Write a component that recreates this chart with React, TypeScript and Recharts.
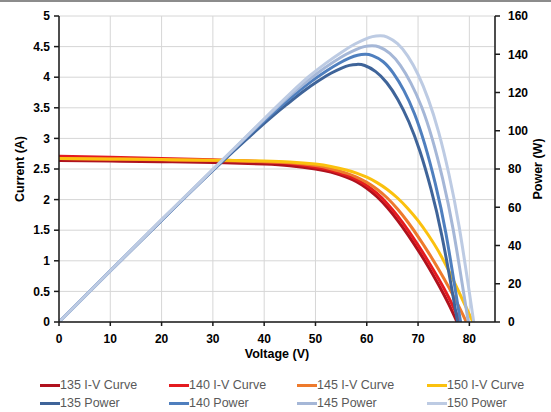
import React from 'react';
import { LineChart, Line, XAxis, YAxis, CartesianGrid, Label } from 'recharts';

// ---- axis ticks ----
const voltageTicks = [0, 10, 20, 30, 40, 50, 60, 70, 80];
const currentTicks = [0, 0.5, 1, 1.5, 2, 2.5, 3, 3.5, 4, 4.5, 5];
const powerTicks = [0, 20, 40, 60, 80, 100, 120, 140, 160];

// ---- I-V curves: [voltage V, current A] ----
const iv135 = [[0, 2.64], [10, 2.63], [20, 2.62], [30, 2.605], [40, 2.58], [45, 2.553], [50, 2.5], [53, 2.449], [56, 2.368], [58, 2.292], [60, 2.186], [62, 2.046], [64, 1.87], [66, 1.662], [68, 1.428], [70, 1.174], [72, 0.904], [74, 0.608], [76, 0.288], [77.6, 0]];
const iv140 = [[0, 2.71], [10, 2.69], [20, 2.67], [30, 2.65], [40, 2.62], [45, 2.59], [50, 2.53], [53, 2.48], [56, 2.4], [58, 2.33], [60, 2.23], [62, 2.1], [64, 1.934], [66, 1.734], [68, 1.506], [70, 1.256], [72, 0.99], [74, 0.706], [76, 0.396], [78.25, 0]];
const iv145 = [[0, 2.67], [10, 2.66], [20, 2.65], [30, 2.64], [40, 2.62], [45, 2.6], [50, 2.555], [53, 2.504], [56, 2.432], [58, 2.368], [60, 2.282], [62, 2.17], [64, 2.026], [66, 1.846], [68, 1.634], [70, 1.396], [72, 1.138], [74, 0.862], [76, 0.566], [78, 0.246], [79.4, 0]];
const iv150 = [[0, 2.67], [10, 2.665], [20, 2.655], [30, 2.645], [40, 2.63], [45, 2.615], [50, 2.58], [53, 2.541], [56, 2.484], [58, 2.434], [60, 2.366], [62, 2.278], [64, 2.166], [66, 2.026], [68, 1.856], [70, 1.656], [72, 1.422], [74, 1.154], [76, 0.834], [78, 0.484], [80, 0.124], [80.7, 0]];

// ---- Power curves: [voltage V, power W] ----
const pw135 = [[0, 0], [10, 26.7], [20, 53.1], [30, 79.2], [40, 103.8], [44.1, 113.1], [47.6, 120.5], [50.6, 126.1], [53.1, 130.2], [55.1, 132.8], [56.6, 134.2], [58.1, 134.7], [59.6, 134.1], [61.75, 130.9], [63.9, 125.1], [66.05, 116.4], [68.2, 104.7], [70.35, 89.4], [72.5, 69.7], [74.65, 45], [76.8, 13.9], [77.7, 0]];
const pw140 = [[0, 0], [10, 26.8], [20, 53.3], [30, 79.5], [40, 105.2], [45.7, 118.4], [49.2, 125.8], [52.2, 131.4], [54.7, 135.45], [56.7, 138.1], [58.2, 139.5], [59.7, 140], [61.1, 139.3], [63.2, 136.1], [65.2, 130], [67.25, 121], [69.3, 108.9], [71.3, 93], [73.35, 72.5], [75.4, 46.8], [77.4, 14.5], [78.3, 0]];
const pw145 = [[0, 0], [10, 26.8], [20, 53.4], [30, 79.7], [40, 105.9], [45, 118.4], [47, 122.9], [50.5, 130.3], [53.5, 135.9], [56, 140], [58, 142.6], [59.5, 144], [61, 144.5], [62.45, 143.8], [64.5, 140.5], [66.55, 134.2], [68.6, 124.9], [70.7, 112.4], [72.75, 95.9], [74.8, 74.8], [76.85, 48.3], [78.9, 15], [79.8, 0]];
const pw150 = [[0, 0], [10, 26.8], [20, 53.5], [30, 79.8], [40, 106.3], [45, 119.3], [48.6, 128.1], [52.1, 135.5], [55.1, 141.1], [57.6, 145.2], [59.6, 147.8], [61.1, 149.2], [62.6, 149.7], [64, 149], [66, 145.5], [68, 139], [70, 129.4], [72, 116.4], [74, 99.4], [76, 77.5], [78, 50], [80, 15.5], [80.85, 0]];

const ivNames = ['135 I-V Curve', '140 I-V Curve', '145 I-V Curve', '150 I-V Curve'];
const pwNames = ['135 Power', '140 Power', '145 Power', '150 Power'];

const ivColors = ['#B0121E', '#E41B1F', '#EE7A2C', '#FBC10E'];
const pwColors = ['#3F6499', '#4F7FBE', '#A5B7D7', '#BDCBE3'];

const toPoints = (pairs: number[][]) => pairs.map(([v, y]) => ({ v, y }));

const ivSeries = [iv135, iv140, iv145, iv150].map((d, i) => ({ name: ivNames[i], color: ivColors[i], data: toPoints(d) }));
const pwSeries = [pw135, pw140, pw145, pw150].map((d, i) => ({ name: pwNames[i], color: pwColors[i], data: toPoints(d) }));

const FONT = '"Liberation Sans", Arial, sans-serif';
const tickStyle = { fill: '#000', fontSize: 12, fontWeight: 700, fontFamily: FONT };
const titleStyle = { fill: '#000', fontSize: 12.5, fontWeight: 700, fontFamily: FONT, textAnchor: 'middle' as const };
const axisLine = { stroke: '#1a1a1a', strokeWidth: 1.5 };

const legendCols = [40, 169, 297, 427];
const legendRows = [377, 395];

export default function App() {
  const legendItems = [...ivSeries, ...pwSeries];
  return (
    <div style={{ position: 'absolute', left: 0, top: 0, width: 551, height: 412, background: '#fff', overflow: 'hidden' }}>
      <div style={{ position: 'absolute', left: 0, top: 0, width: 551, height: 2, background: '#8c8c8c' }} />
      <LineChart width={551} height={412} margin={{ top: 16, right: 0, bottom: 50, left: 0 }}>
        <CartesianGrid yAxisId="I" stroke="#d6d6d6" strokeWidth={1} />
        <XAxis
          type="number"
          dataKey="v"
          domain={[0, 85]}
          ticks={voltageTicks}
          allowDataOverflow
          height={40}
          tickSize={4}
          tickMargin={8}
          tick={tickStyle}
          axisLine={axisLine}
          tickLine={axisLine}
        >
          <Label value="Voltage (V)" position="insideBottom" offset={4} style={titleStyle} />
        </XAxis>
        <YAxis
          yAxisId="I"
          type="number"
          domain={[0, 5]}
          ticks={currentTicks}
          width={59}
          tickSize={5}
          tickMargin={4}
          tick={tickStyle}
          axisLine={axisLine}
          tickLine={axisLine}
          allowDataOverflow
        >
          <Label value="Current (A)" angle={-90} position="insideLeft" offset={20} style={titleStyle} />
        </YAxis>
        <YAxis
          yAxisId="P"
          orientation="right"
          type="number"
          domain={[0, 160]}
          ticks={powerTicks}
          width={56}
          tickSize={5}
          tickMargin={8}
          tick={tickStyle}
          axisLine={axisLine}
          tickLine={axisLine}
          allowDataOverflow
        >
          <Label value="Power (W)" angle={-90} position="insideRight" offset={13} style={titleStyle} />
        </YAxis>
        {ivSeries.map((s) => (
          <Line
            key={s.name}
            yAxisId="I"
            data={s.data}
            dataKey="y"
            name={s.name}
            type="natural"
            stroke={s.color}
            strokeWidth={3}
            dot={false}
            activeDot={false}
            isAnimationActive={false}
          />
        ))}
        {pwSeries.map((s) => (
          <Line
            key={s.name}
            yAxisId="P"
            data={s.data}
            dataKey="y"
            name={s.name}
            type="natural"
            stroke={s.color}
            strokeWidth={3}
            dot={false}
            activeDot={false}
            isAnimationActive={false}
          />
        ))}
      </LineChart>
      {legendItems.map((s, i) => (
        <div
          key={s.name}
          style={{
            position: 'absolute',
            left: legendCols[i % 4],
            top: legendRows[Math.floor(i / 4)],
            height: 16,
            display: 'flex',
            alignItems: 'center',
            fontFamily: FONT,
            fontSize: 12.5,
            color: '#595959',
            whiteSpace: 'nowrap',
          }}
        >
          <span style={{ display: 'inline-block', width: 20, height: 3, background: s.color }} />
          <span>{s.name}</span>
        </div>
      ))}
    </div>
  );
}
